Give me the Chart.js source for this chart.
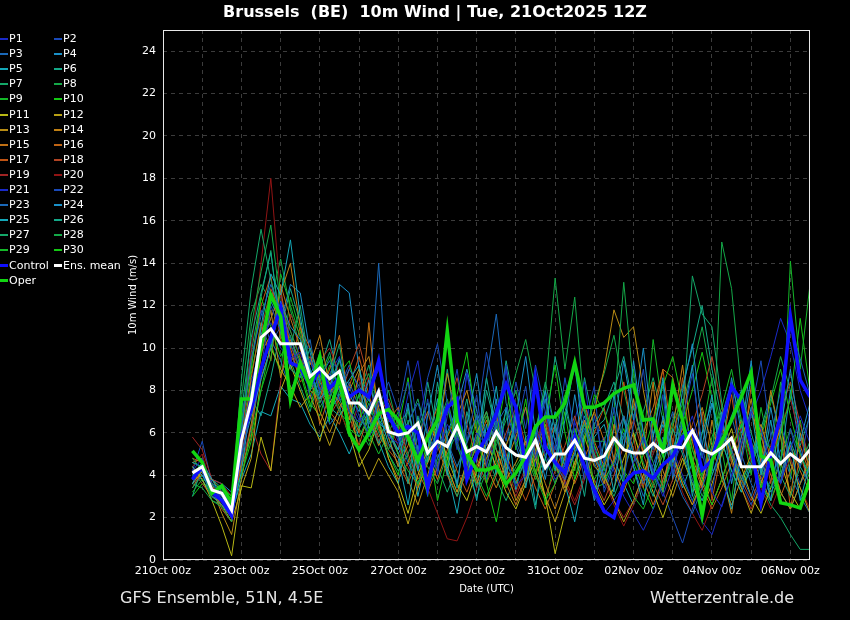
<!DOCTYPE html>
<html>
<head>
<meta charset="utf-8">
<title>Brussels 10m Wind - GFS Ensemble</title>
<script src="https://cdn.jsdelivr.net/npm/chart.js@4.4.1/dist/chart.umd.min.js"></script>
<style>
  body { margin: 0; background: #000; }
  #wrap { position: relative; width: 850px; height: 620px; background: #000; overflow: hidden;
          font-family: "DejaVu Sans", sans-serif; color: #fff; }
  #chart { position: absolute; left: 0; top: 0; }
  #title { position: absolute; left: 0; top: 2px; width: 870px; text-align: center;
           font-weight: bold; font-size: 16px; white-space: pre; }
  .foot { position: absolute; top: 588px; font-size: 16px; color: #e6e6e6; white-space: pre; }
  .leg { position: absolute; font-size: 11px; line-height: 14px; white-space: pre; }
  .leg span { display: inline-block; width: 8px; height: 2px; vertical-align: middle; margin-right: 1px; }
</style>
</head>
<body>
<div id="wrap">
  <canvas id="chart" width="850" height="620"></canvas>
  <div id="title">Brussels  (BE)  10m Wind | Tue, 21Oct2025 12Z</div>
  <div class="foot" style="left:120px">GFS Ensemble, 51N, 4.5E</div>
  <div class="foot" style="left:650px">Wetterzentrale.de</div>
  <div id="legend"></div>
</div>
<script>
// Forecast steps (hours after 21Oct 00z)
const forecastHours = [18,24,30,36,42,48,54,60,66,72,78,84,90,96,102,108,114,120,126,132,138,144,150,156,162,168,174,180,186,192,198,204,210,216,222,228,234,240,246,252,258,264,270,276,282,288,294,300,306,312,318,324,330,336,342,348,354,360,366,372,378,384,390,396];

// Tick labels every 2 days
const dayLabels = ["21Oct 00z","23Oct 00z","25Oct 00z","27Oct 00z","29Oct 00z","31Oct 00z","02Nov 00z","04Nov 00z","06Nov 00z"];

// Ensemble members (m/s)
const p1 = [4.2,4.8,3.4,3.0,2.2, 5.5,8.0,10.5,11.2,10.0,9.5,9.8, 8.5,9.2,7.8,8.4,7.0,6.5,7.2,8.1,5.8, 5.5,6.2,5.0,3.8,5.2,6.4,5.5,4.2,6.0,5.4,7.2,4.8,3.5,4.0,6.2,5.0,3.8,4.5,6.5,5.2,3.0, 2.2,2.8,3.5,4.6,5.8,4.2,3.0,4.4,5.6,6.8,5.0,3.2,2.5,4.0,5.5,7.0,6.2,4.5,3.6,5.2,6.8,5.5];
const p2 = [3.8,4.5,3.6,3.2,2.6, 4.8,7.2,9.0,12.0,10.8,10.2,9.0, 9.5,8.0,8.8,7.5,8.2,6.8,6.0,7.5,6.5, 6.8,8.4,5.0,7.6,4.2,6.8,9.0,5.6,7.8,4.4,6.6,9.2,6.0,8.2,4.8,7.0,5.2,8.6,6.0,3.8,6.8, 4.6,7.2,3.8,6.4,9.0,5.2,7.8,4.0,6.6,8.8,5.4,3.2,6.0,8.4,4.6,7.0,9.4,5.8,3.6,6.2,4.4,7.0];
const p3 = [4.0,4.2,3.0,2.8,2.4, 6.2,9.5,11.5,13.0,11.8,10.5,9.2, 8.0,8.6,9.4,8.0,9.0,8.2,7.5,14.0,7.0, 5.8,6.5,7.4,6.0,4.8,5.6,4.4,5.5,6.8,5.5,6.4,7.2,5.4,4.0,5.8,7.6,4.5,3.8,5.0,6.2,4.8, 4.0,5.5,6.8,5.0,3.6,4.5,5.8,4.2,3.0,2.2,3.4,4.8,6.0,5.2,4.0,3.0,4.6,5.8,8.0,11.0,9.5,7.8];
const p4 = [4.4,4.0,3.2,3.4,2.8, 5.0,6.8,8.5,10.0,12.2,11.0,10.4, 9.0,7.6,8.2,9.5,7.8,7.0,8.5,6.5,6.0, 5.2,7.4,4.2,6.8,9.2,5.8,3.6,6.4,8.8,5.4,7.6,4.0,6.8,9.6,6.0,3.8,6.4,4.4,7.8,5.0,2.8, 4.5,7.8,5.2,9.4,6.0,3.8,6.8,4.6,8.0,10.2,6.4,4.2,7.0,3.6,5.8,8.6,5.0,2.8,6.2,9.0,5.6,7.4];
const p5 = [3.6,4.6,3.8,3.0,2.0, 4.2,7.5,11.0,13.5,12.5,15.1,11.5, 8.8,9.5,7.0,7.8,8.5,9.2,6.2,7.0,5.5, 4.8,2.6,5.4,3.2,6.6,4.0,7.4,5.0,2.8,5.6,8.2,4.6,6.8,3.4,5.8,8.0,4.4,6.6,9.4,5.2,3.0, 5.6,3.2,6.8,4.4,2.6,5.8,8.6,4.8,6.4,3.0,5.4,7.8,4.2,2.4,5.0,7.2,4.0,6.6,3.6,5.6,2.8,4.6];
const p6 = [4.6,4.4,3.0,2.6,2.0, 7.0,10.5,12.6,14.5,11.0,9.0,8.6, 10.0,8.4,7.2,6.8,7.6,8.0,6.6,5.5,6.8, 6.0,3.6,6.8,4.6,8.4,5.6,3.4,7.0,5.0,8.6,6.0,3.8,7.2,4.6,2.4,6.2,4.2,7.6,5.2,3.0,6.4, 7.2,8.4,6.6,5.0,4.2,3.0,4.6,6.2,5.0,3.6,2.8,4.0,5.2,6.8,8.0,6.0,4.4,3.2,4.0,5.6,4.4,3.6];
const p7 = [3.4,4.0,3.5,3.3,2.6, 8.5,12.8,15.6,13.2,11.5,10.0,12.0, 9.0,7.4,8.6,10.2,7.0,6.2,7.4,6.0,5.0, 4.2,5.0,6.2,7.4,5.6,4.2,3.0,4.4,5.8,7.0,5.2,4.6,3.6,4.8,6.0,8.4,6.2,4.4,5.0,6.4,5.0, 3.8,4.6,5.8,7.2,5.4,4.0,3.2,5.2,6.8,13.4,11.6,11.0,7.4,5.0,3.8,4.6,6.0,5.2,4.0,3.0,4.4,5.6];
const p8 = [4.8,4.2,2.8,2.5,1.8, 5.8,11.0,13.6,15.8,12.0,10.8,9.5, 8.2,9.8,8.0,7.0,6.4,7.8,8.8,6.6,5.2, 6.4,7.0,5.2,4.4,3.6,5.0,6.0,4.8,3.5,4.2,5.4,6.6,8.0,5.8,6.2,8.0,13.3,9.0,12.4,7.0,5.6, 5.6,7.0,13.1,8.2,6.0,4.6,3.4,4.8,6.0,4.4,3.0,4.2,15.0,12.8,8.0,5.6,4.2,3.4,4.8,6.2,5.0,4.0];
const p9 = [3.2,3.8,3.6,3.4,3.0, 4.0,6.0,8.0,9.5,13.5,12.0,10.5, 7.8,8.4,9.6,8.0,6.2,5.8,6.8,7.6,6.4, 5.0,4.2,3.6,4.8,6.0,7.2,5.4,4.0,5.6,6.8,4.6,3.4,4.4,5.2,4.0,2.8,3.6,5.0,6.2,4.8,3.8, 4.6,5.8,4.2,3.0,2.4,3.6,5.0,6.4,7.6,5.2,4.0,5.8,7.2,9.0,6.6,4.8,3.6,2.8,4.2,14.1,9.0,13.0];
const p10 = [4.0,4.6,3.2,2.9,2.3, 6.6,9.0,12.4,11.0,9.6,10.6,8.8, 7.2,9.0,7.6,8.8,9.4,7.2,5.6,6.4,7.0, 6.2,8.6,5.0,3.0,6.4,4.4,7.8,9.8,6.2,3.6,5.8,8.4,5.2,7.6,4.0,6.6,9.2,6.0,3.8,5.6,7.8, 7.0,5.6,4.2,3.6,5.0,6.6,8.2,9.6,7.4,5.2,3.8,2.6,3.8,5.2,6.4,4.8,3.4,4.6,6.0,7.6,11.4,8.0];
const p11 = [4.4,3.8,2.8,1.6,0.2, 3.5,3.4,5.8,4.2,8.0,9.2,8.0, 6.8,5.6,7.4,8.2,6.0,4.4,5.2,6.6,4.8, 3.6,2.2,4.0,5.2,6.4,4.8,3.6,2.8,4.2,5.6,4.4,3.2,2.4,3.6,4.8,3.0,0.3,2.2,3.8,5.0,3.6, 2.6,3.4,4.8,6.0,4.4,3.2,2.0,3.4,4.8,3.6,2.4,3.6,5.0,6.2,4.4,3.0,2.2,3.4,4.6,3.2,2.4,3.6];
const p12 = [3.6,4.2,3.0,2.6,1.8, 3.4,4.8,8.6,10.0,9.0,8.2,7.2, 7.8,6.6,5.4,6.8,7.6,5.0,3.8,4.8,4.0, 3.2,1.7,3.4,4.6,5.8,4.4,3.2,4.6,6.0,7.0,5.2,3.8,4.6,5.6,4.2,3.0,1.8,3.2,4.6,5.8,4.4, 4.0,2.8,1.8,2.8,4.0,5.4,6.6,5.0,3.6,2.6,3.8,5.2,6.4,4.8,3.4,2.2,3.6,5.0,6.2,4.6,3.4,2.2];
const p13 = [4.2,4.4,3.4,2.2,1.2, 3.8,6.4,9.6,11.8,8.6,10.4,9.4, 8.6,7.0,6.0,7.2,8.0,9.0,6.8,5.4,6.2, 5.0,3.8,2.6,4.0,5.6,8.8,6.6,5.0,3.6,4.8,6.0,4.4,2.8,3.8,5.2,6.4,4.6,3.2,4.4,5.8,7.0, 9.0,11.8,10.5,11.0,8.0,5.6,4.2,3.0,4.4,5.8,7.2,5.4,3.8,2.6,3.8,5.0,6.4,4.8,3.2,2.4,3.6,4.8];
const p14 = [3.8,4.0,3.8,3.2,2.6, 4.6,7.8,10.2,11.4,12.6,14.0,11.0, 9.2,10.6,8.2,7.4,6.6,8.8,9.6,7.2,5.8, 4.4,5.4,6.6,5.0,3.8,5.2,6.8,8.0,6.0,4.4,3.4,4.6,5.8,7.2,5.0,3.6,2.4,3.8,5.2,6.6,4.8, 3.6,6.4,4.0,7.6,5.0,8.4,3.2,6.2,9.2,5.6,3.4,6.6,4.2,2.2,5.4,7.6,4.6,8.0,5.8,3.0,6.0,4.2];
const p15 = [4.6,4.8,3.2,2.6,2.2, 5.2,8.6,11.2,9.4,13.0,11.4,10.0, 8.0,7.6,9.0,10.6,7.2,6.0,11.2,6.4,4.8, 3.8,4.6,5.8,7.0,5.4,4.0,3.0,4.2,5.4,6.6,4.8,3.6,2.6,3.8,5.0,6.2,4.6,3.4,4.6,5.8,7.0, 5.6,4.4,3.2,4.6,6.0,7.2,9.0,8.6,6.4,4.8,3.6,2.6,3.8,5.2,6.6,5.0,3.8,2.8,4.0,5.4,4.2,3.2];
const p16 = [3.4,4.2,3.4,3.0,2.4, 4.4,5.8,9.8,10.6,12.8,10.0,8.4, 8.8,6.4,7.8,8.6,6.8,5.4,7.0,5.8,6.6, 7.2,5.6,4.2,3.2,4.4,5.8,6.8,5.0,3.8,2.8,4.0,5.4,6.6,4.8,3.4,2.4,3.6,4.8,6.0,7.4,5.6, 4.4,5.6,6.8,5.2,3.8,2.6,3.8,5.0,6.2,4.6,3.4,2.4,3.4,4.6,5.8,7.0,5.4,4.0,3.0,4.2,5.4,4.0];
const p17 = [4.8,4.6,3.6,2.4,1.8, 6.0,9.4,12.0,13.4,10.4,9.2,11.0, 10.0,8.6,7.0,6.4,8.2,9.6,7.8,6.2,5.2, 4.6,3.6,4.8,6.0,7.2,5.4,4.2,3.2,4.4,5.6,6.8,5.0,3.8,2.8,4.0,5.2,6.4,4.8,3.6,4.8,6.0, 7.2,4.6,8.4,5.8,3.4,6.6,9.0,5.4,8.6,4.4,7.0,2.8,5.2,7.8,4.6,8.2,6.0,3.6,6.8,2.4,5.0,3.4];
const p18 = [4.2,3.6,3.0,2.6,2.0, 5.0,7.2,10.8,12.8,11.6,10.2,8.8, 9.6,8.2,6.8,7.6,9.0,10.2,8.4,6.8,7.6, 6.4,5.0,3.8,4.6,5.8,7.0,8.6,6.4,4.8,3.6,4.8,6.0,7.2,5.4,4.0,3.0,4.2,5.4,6.8,5.0,3.8, 2.8,4.0,5.4,6.6,5.0,3.6,2.6,3.8,5.0,6.4,7.8,9.6,7.2,5.2,3.8,2.8,4.0,5.4,7.0,8.4,6.4,4.6];
const p19 = [5.8,5.2,3.8,3.6,3.0, 4.4,6.4,5.0,4.2,8.4,11.6,10.6, 8.4,9.4,10.0,8.8,7.4,8.6,6.8,5.6,6.4, 5.4,4.4,3.4,4.6,5.8,4.4,3.2,4.4,5.6,6.8,5.2,4.0,3.0,4.2,5.4,6.6,4.8,3.6,2.6,3.8,5.0, 4.0,2.8,2.0,2.8,4.0,5.2,6.6,5.0,3.6,2.6,3.6,4.8,6.2,4.6,3.4,2.4,3.6,4.8,6.2,7.6,5.8,4.2];
const p20 = [4.4,5.0,3.4,3.2,2.6, 5.6,10.0,14.0,18.0,12.4,10.8,9.6, 8.0,7.4,8.6,7.0,6.0,7.4,8.6,6.2,5.4, 4.8,6.0,4.6,3.4,2.2,1.0,0.9,2.0,3.4,4.6,5.8,4.4,3.2,4.4,5.6,6.8,5.0,3.8,2.8,4.0,5.2, 3.8,2.6,1.6,2.6,3.8,5.0,6.2,4.6,3.2,2.2,1.4,2.6,3.8,5.0,6.2,4.6,3.4,2.4,3.6,4.8,3.4,2.4];
const p21 = [3.9,4.6,3.2,3.0,2.4, 5.0,8.4,10.0,11.4,12.6,9.8,8.6, 9.4,8.0,8.8,9.6,7.6,6.6,7.8,9.0,6.8, 5.6,7.8,9.4,6.2,4.0,7.4,5.2,8.8,6.4,3.8,6.0,9.0,5.6,7.2,4.4,8.0,6.2,3.6,6.6,8.4,5.0, 5.8,4.2,3.0,2.2,1.4,2.4,3.8,5.2,4.0,2.8,1.8,1.2,2.6,4.0,5.4,6.8,8.0,9.6,11.4,10.2,8.0,6.6];
const p22 = [4.2,5.6,3.6,2.8,2.0, 6.8,9.2,11.8,10.2,11.0,9.0,10.2, 7.6,8.8,7.2,8.2,9.2,8.0,6.4,7.2,8.4, 7.0,9.4,6.2,8.6,10.2,7.4,5.6,8.8,6.6,9.8,7.4,5.6,8.4,6.2,9.2,7.0,4.8,7.6,9.0,6.4,8.2, 3.2,4.4,5.8,7.2,5.6,4.2,3.2,2.0,0.8,2.4,3.8,5.2,6.6,5.0,3.6,2.6,3.8,5.2,6.4,4.8,3.6,4.4];
const p23 = [3.6,4.0,3.4,3.2,2.8, 4.6,6.2,8.8,10.4,9.4,8.0,9.0, 10.4,7.8,6.4,7.0,8.4,7.2,5.8,6.6,7.4, 5.8,4.6,3.6,4.8,6.2,7.4,5.4,4.2,5.4,8.6,11.6,7.4,5.6,4.4,5.6,6.8,5.0,3.8,5.0,6.4,4.6, 3.4,4.6,6.0,4.4,3.0,4.2,5.6,7.0,5.2,3.8,2.8,4.0,5.4,6.8,5.0,3.6,2.6,3.8,5.2,4.0,3.0,2.2];
const p24 = [4.6,4.4,3.8,3.6,3.2, 6.0,8.0,10.6,12.2,11.2,13.0,12.6, 9.8,8.0,7.4,13.0,12.6,9.0,7.6,6.6,6.0, 5.0,6.0,4.8,3.6,4.8,6.0,7.2,9.0,7.0,5.6,6.6,4.6,3.6,4.8,6.2,7.6,5.6,4.2,5.4,6.8,5.0, 3.8,6.2,9.4,6.6,10.0,5.8,8.4,3.8,6.6,9.2,4.8,7.4,5.0,8.6,6.0,9.4,4.2,7.2,4.6,8.0,5.2,3.4];
const p25 = [4.0,3.8,3.0,2.8,2.2, 3.8,5.0,7.0,6.8,8.2,7.6,7.4, 6.4,5.8,6.8,6.0,5.0,6.2,7.0,5.6,4.4, 3.6,6.0,3.0,5.2,7.6,4.2,2.2,5.0,3.4,6.4,4.0,7.2,3.2,5.8,2.6,4.8,7.0,3.6,1.8,4.2,5.8, 6.4,4.8,3.6,2.6,3.8,5.0,6.4,4.8,3.4,4.6,6.0,7.4,5.6,4.2,3.2,4.4,5.8,4.4,3.2,2.4,3.6,5.0];
const p26 = [3.0,4.4,3.8,3.4,3.0, 5.4,7.6,6.8,8.6,10.8,12.8,11.2, 8.2,9.0,10.4,8.4,7.0,5.8,6.6,7.8,5.8, 4.4,7.2,5.0,8.4,6.0,9.0,5.8,7.6,4.6,8.0,6.2,9.4,7.0,4.8,8.2,6.0,9.6,7.2,5.4,8.6,6.2, 6.6,8.0,9.6,7.2,5.4,4.0,5.2,6.6,8.2,10.0,12.0,9.0,6.6,4.8,3.6,4.8,6.2,7.8,5.8,4.2,5.4,6.8];
const p27 = [4.4,4.0,3.2,3.0,2.6, 6.4,9.8,12.4,14.6,10.6,9.4,8.2, 7.0,8.6,9.8,7.6,6.4,7.8,9.2,7.0,6.0, 5.2,6.4,7.6,5.8,4.4,3.2,4.4,5.6,6.8,5.0,3.8,2.8,4.0,5.2,6.4,4.8,3.6,4.8,6.0,7.2,5.4, 4.0,3.0,4.2,5.6,7.0,8.6,6.6,5.0,3.8,2.8,4.0,5.4,6.8,8.4,6.4,4.8,3.6,2.6,2.0,1.2,0.5,0.5];
const p28 = [3.6,3.4,2.8,2.6,2.2, 7.6,11.6,13.0,12.2,14.2,11.8,10.0, 9.0,7.2,8.0,9.4,7.6,6.2,5.4,6.8,8.0, 6.2,4.8,3.6,4.8,6.2,7.6,5.6,4.2,3.0,4.2,5.6,7.0,8.8,10.4,8.0,6.0,4.4,3.4,4.6,6.0,7.4, 8.8,10.6,8.0,6.0,4.6,3.4,4.6,6.0,7.4,9.0,11.0,8.4,6.2,4.6,3.4,4.6,6.0,7.6,9.6,8.0,6.0,4.6];
const p29 = [4.2,4.4,3.2,2.8,2.4, 5.8,8.8,11.0,10.0,9.0,12.4,10.8, 8.6,7.8,9.2,8.0,6.6,7.8,6.0,5.0,6.0, 7.0,5.6,4.4,3.4,4.6,5.8,7.2,5.4,4.0,3.0,4.2,5.4,6.8,5.0,3.8,4.8,6.2,7.8,9.2,7.0,5.4, 4.2,6.8,3.6,9.0,5.4,10.4,7.0,4.4,6.8,3.2,6.0,8.6,5.2,2.8,6.4,4.0,7.2,5.0,8.4,3.8,6.6,4.0];
const p30 = [3.0,3.6,3.4,3.0,2.6, 4.0,5.6,8.0,10.2,8.8,9.6,9.0, 7.4,6.8,8.4,7.2,5.8,6.6,7.6,6.2,5.0, 4.0,6.6,3.4,5.8,2.8,4.8,7.4,4.4,6.8,3.6,1.8,4.4,6.6,3.8,5.6,2.6,4.8,7.0,4.2,6.6,3.4, 3.6,4.8,6.2,4.6,3.4,2.4,3.6,5.0,6.4,8.0,9.8,7.6,5.6,4.2,3.2,4.4,5.8,7.4,9.0,6.8,5.0,3.8];

const control = [3.8,4.4,3.2,2.8,2.1, 5.8,7.1,9.0,10.5,11.9,9.3,9.1, 8.2,9.0,8.1,8.6,7.7,8.0,7.7,9.4,6.8, 6.0,6.3,6.0,3.4,5.8,7.2,7.6,3.8,5.0,5.8,6.9,8.3,7.2,4.4,8.5,5.3,4.6,4.1,5.8,4.4,3.3, 2.3,2.0,3.6,4.1,4.2,3.85,4.5,4.9,5.8,6.1,4.25,4.7,6.4,8.2,7.5,5.35,2.7,5.0,6.8,11.5,8.5,7.7];
const oper = [5.15,4.6,3.15,3.5,2.7, 7.6,7.6,10.0,12.5,11.5,7.55,9.3, 8.2,9.6,6.85,8.7,6.0,5.2,6.0,6.9,7.1, 6.6,5.8,4.7,5.8,6.6,10.8,6.6,5.0,4.25,4.25,4.4,3.6,4.1,4.9,6.3,6.75,6.75,7.4,9.3,7.2,7.2, 7.4,7.85,8.1,8.25,6.6,6.65,5.1,8.25,6.6,4.55,2.1,4.7,5.6,6.6,7.7,8.85,4.9,4.7,2.7,2.6,2.45,3.8];
const ensMean = [4.1,4.4,3.3,3.15,2.35, 5.65,7.5,10.5,10.9,10.2,10.2,10.2, 8.65,9.05,8.55,8.9,7.4,7.4,6.9,7.95,6.05, 5.9,6.0,6.45,5.05,5.6,5.35,6.3,5.1,5.35,5.1,6.05,5.3,4.95,4.85,5.65,4.35,5.0,5.0,5.65,4.8,4.7, 4.9,5.75,5.2,5.05,5.05,5.5,5.1,5.35,5.3,6.1,5.2,5.0,5.3,5.75,4.4,4.4,4.4,5.05,4.55,5.0,4.65,5.2];

const members = [p1,p2,p3,p4,p5,p6,p7,p8,p9,p10,p11,p12,p13,p14,p15,p16,p17,p18,p19,p20,
                 p21,p22,p23,p24,p25,p26,p27,p28,p29,p30];

// member colours cycle every 20 members
const memberColors = ["#1a2ac8","#1a4ab8","#1a68b8","#1a90c8","#14a8b8","#14a888","#14a868","#14a848","#14b828","#14c814",
                      "#b8b814","#b8a014","#b88c14","#c08014","#c07014","#c06414","#c05414","#b04424","#a02424","#901414"];
const controlColor = "#0f0fff";
const operColor = "#12d612";
const meanColor = "#ffffff";

function toPoints(series) {
  return forecastHours.map((h, i) => ({ x: h, y: series[i] }));
}

const datasets = members.map((m, k) => ({
  label: "P" + (k + 1),
  data: toPoints(m),
  borderColor: memberColors[k % 20],
  borderWidth: 1,
  order: 3,
}));
datasets.push({ label: "Control", data: toPoints(control), borderColor: controlColor, borderWidth: 3.5, order: 2 });
datasets.push({ label: "Oper", data: toPoints(oper), borderColor: operColor, borderWidth: 3.5, order: 1 });
datasets.push({ label: "Ens. mean", data: toPoints(ensMean), borderColor: meanColor, borderWidth: 3, order: 0 });

// Legend on the left, two columns
const legend = document.getElementById("legend");
function addLegendItem(text, color, row, col, thick) {
  const div = document.createElement("div");
  div.className = "leg";
  div.style.left = (col === 0 ? 0 : 54) + "px";
  div.style.top = (32 + row * 15.1) + "px";
  div.innerHTML = `<span style="background:${color};height:${thick}px"></span>${text}`;
  legend.appendChild(div);
}
members.forEach((m, k) => addLegendItem("P" + (k + 1), memberColors[k % 20], Math.floor(k / 2), k % 2, 2));
addLegendItem("Control", controlColor, 15, 0, 3);
addLegendItem("Ens. mean", meanColor, 15, 1, 3);
addLegendItem("Oper", operColor, 16, 0, 3);

const frame = {
  id: "frame",
  afterDraw(chart) {
    const { ctx, chartArea: a } = chart;
    ctx.save();
    ctx.strokeStyle = "#e8e8e8";
    ctx.lineWidth = 1;
    ctx.strokeRect(a.left + 0.5, a.top + 0.5, a.right - a.left - 1, a.bottom - a.top - 1);
    ctx.restore();
  },
};

const font = { family: "DejaVu Sans", size: 11 };

new Chart(document.getElementById("chart"), {
  type: "line",
  data: { datasets },
  plugins: [frame],
  options: {
    responsive: false,
    animation: false,
    events: [],
    layout: { padding: { left: 123, right: 40, top: 30, bottom: 21 } },
    plugins: { legend: { display: false }, tooltip: { enabled: false } },
    elements: { point: { radius: 0 }, line: { tension: 0 } },
    scales: {
      x: {
        type: "linear",
        min: 0,
        max: 396,
        afterFit: (s) => { s.height = 39; s.paddingLeft = 0; s.paddingRight = 0; },
        ticks: {
          stepSize: 24,
          autoSkip: false,
          maxRotation: 0,
          includeBounds: false,
          color: "#ffffff",
          font,
          padding: 5,
          callback: (v) => (v % 48 === 0 ? dayLabels[v / 48] : ""),
        },
        grid: { color: "#3c3c3c", drawTicks: false },
        border: { display: false, dash: [4, 4] },
        title: { display: true, text: "Date (UTC)", color: "#ffffff",
                 font: { family: "DejaVu Sans", size: 10 }, padding: { top: 2, bottom: 4 } },
      },
      y: {
        min: 0,
        max: 25,
        afterFit: (s) => { s.width = 40; s.paddingTop = 0; s.paddingBottom = 0; },
        ticks: { stepSize: 2, includeBounds: false, color: "#ffffff", font, padding: 7 },
        grid: { color: "#3c3c3c", drawTicks: false },
        border: { display: false, dash: [4, 4] },
        title: { display: true, text: "10m Wind (m/s)", color: "#ffffff",
                 font: { family: "DejaVu Sans", size: 10 }, padding: { top: 4, bottom: 2 } },
      },
    },
  },
});
</script>
</body>
</html>
